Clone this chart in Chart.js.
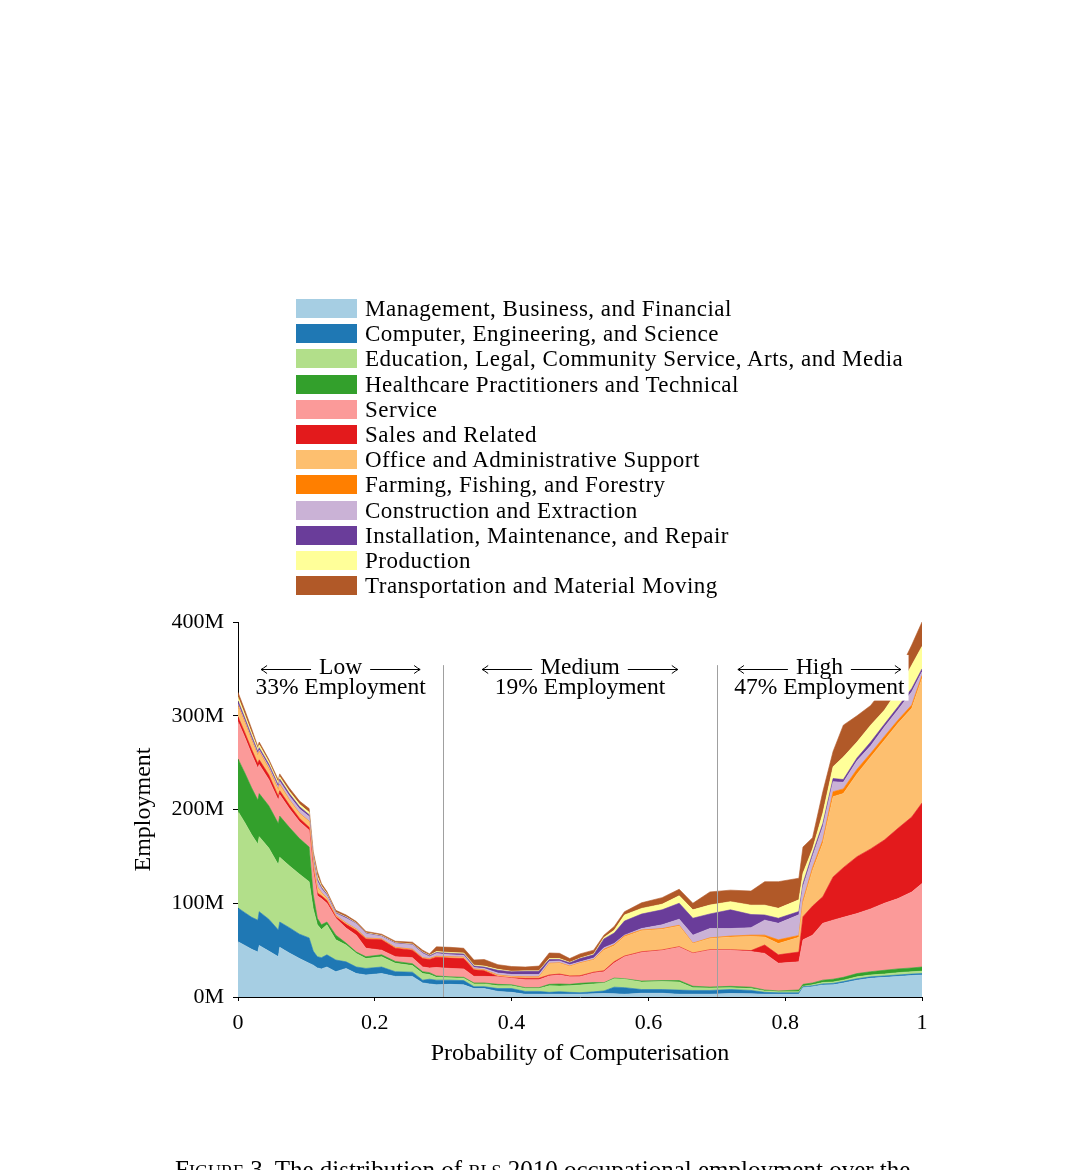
<!DOCTYPE html>
<html>
<head>
<meta charset="utf-8">
<script src="https://cdn.jsdelivr.net/npm/chart.js@4.4.0/dist/chart.umd.min.js"></script>
<style>
  html, body { margin: 0; padding: 0; background: #fff; }
  body { width: 1080px; height: 1170px; position: relative; overflow: hidden; font-family: "Liberation Serif", serif; }
  #chart { position: absolute; left: 0; top: 0; }
  #legend { position: absolute; left: 296px; top: 296px; }
  .row { display: flex; align-items: center; height: 25.2px; }
  .swatch { width: 61px; height: 19px; margin-right: 8px; flex: none; }
  .row span { font-size: 23px; letter-spacing: 0.5px; line-height: 25px; color: #000; white-space: nowrap; }
  #caption { position: absolute; left: 175px; top: 1156px; font-size: 25px; white-space: nowrap; color: #000; }
</style>
</head>
<body>
<canvas id="chart" width="1080" height="1170"></canvas>
<div id="legend"></div>
<div id="caption"><span style="font-variant: small-caps">Figure 3.</span> The distribution of <span style="font-variant: small-caps">bls</span> 2010 occupational employment over the</div>
<script>
// ---------- DATA ----------

// probability of computerisation (x positions)
const prob = [0, 0.01, 0.02, 0.029, 0.031, 0.045, 0.059, 0.061, 0.075, 0.09,
  0.104, 0.11, 0.116, 0.122, 0.13, 0.143, 0.158, 0.173, 0.187, 0.21,
  0.23, 0.255, 0.27, 0.28, 0.29, 0.31, 0.33, 0.345, 0.36, 0.38,
  0.40, 0.42, 0.44, 0.455, 0.47, 0.485, 0.50, 0.52, 0.535, 0.55,
  0.565, 0.59, 0.62, 0.645, 0.665, 0.69, 0.72, 0.75, 0.77, 0.79,
  0.82, 0.826, 0.84, 0.855, 0.87, 0.885, 0.905, 0.925, 0.945, 0.965,
  0.985, 1.0];

const categories = [
  "Management, Business, and Financial",
  "Computer, Engineering, and Science",
  "Education, Legal, Community Service, Arts, and Media",
  "Healthcare Practitioners and Technical",
  "Service",
  "Sales and Related",
  "Office and Administrative Support",
  "Farming, Fishing, and Forestry",
  "Construction and Extraction",
  "Installation, Maintenance, and Repair",
  "Production",
  "Transportation and Material Moving"
];

const colours = ['#a6cee3', '#1f78b4', '#b2df8a', '#33a02c', '#fb9a99', '#e31a1c',
  '#fdbf6f', '#ff7f00', '#cab2d6', '#6a3d9a', '#ffff99', '#b15928'];

// employment in millions, one value per prob point
const management = [59, 55, 51, 48, 55, 49, 43, 53, 47, 41, 36, 34, 31, 30, 32, 27, 30.5, 25, 23.5, 25,
  22, 22, 15, 14, 13, 13.5, 13, 9, 9, 6, 5, 3, 3, 3, 3, 3, 3, 3.5, 3.7, 3.5,
  3, 4, 4, 3, 3, 3, 3.7, 3.5, 3, 3, 3, 10, 11, 12.8, 13, 15, 18, 20, 21, 22, 23, 23.5];
const computer = [36, 35, 34, 34, 36, 34, 28.5, 27, 27, 26, 27, 15, 12, 12, 13, 12.5, 7, 7, 7, 7,
  5, 4.5, 3, 5, 5, 4.5, 4.5, 2, 2, 3, 4, 3, 3, 2, 2.7, 2, 1.6, 2, 2.8, 7,
  7, 4, 4, 4.4, 4, 4, 4.3, 3.5, 2, 1.5, 1.5, 1, 1, 1.2, 1.5, 1.5, 1.5, 1.5, 1.5, 1.5, 1.5, 1.5];
const education = [103, 96, 88, 81, 80, 76, 69.5, 69, 66, 64, 60, 45, 34, 30, 32, 21.5, 18, 14.5, 10.5, 11,
  9, 7, 7, 5, 3, 2.5, 2.5, 3, 3, 3, 3, 3, 3, 7, 6, 7, 8.2, 8.5, 8.1, 9,
  9, 8, 8.5, 8.6, 3, 2.6, 2, 2, 1.5, 1, 1, 0.5, 1, 1.5, 1.5, 1.5, 2, 2, 2, 2.5, 2.5, 2.5];
const healthcare = [56, 53, 50, 47, 46, 45, 44, 44, 41, 38, 37, 15, 7, 5, 3, 5, 2, 1.5, 2, 2,
  2, 2, 2, 2, 1.5, 1, 1, 1, 1, 1.5, 1, 1, 1, 1.5, 2.2, 1.5, 1.8, 1.5, 0.7, 0.7,
  0.5, 1, 1, 1.6, 1.5, 1, 1.4, 1.5, 1, 1, 2, 2, 2, 2.5, 3, 3, 3.5, 3.5, 4, 4, 4, 4.5];
const service = [40, 38, 36, 34, 31, 28, 25, 23, 20, 18, 18, 25, 24, 28, 20, 18, 16, 18, 9, 5,
  5, 6.5, 5, 5, 9, 9, 9, 7, 7, 8, 7, 8.5, 8.5, 9, 9.6, 8, 7.1, 10, 11.7, 16,
  23.5, 30.6, 32, 35.4, 35, 39.4, 38.6, 38, 39, 29.5, 30, 47.5, 51, 60.6, 63, 64, 64, 67, 71.5, 75, 81, 89];
const sales = [5, 5, 5, 5, 5, 5, 4, 4, 4, 3.5, 3, 3, 3, 3, 3, 1.5, 4, 5, 10, 11,
  9, 8, 9, 9, 11, 11, 11, 7, 6, 0.5, 0.5, 1.5, 1.5, 1, 1, 1, 1, 1, 1, 1.5,
  0.7, 0.7, 0.7, 0.7, 0.5, 0.5, 0.5, 1, 9, 9, 10.5, 24.7, 31, 28.4, 46, 53, 60.7, 64, 67.5, 75, 80, 86];
const office = [11, 10, 9, 8, 8, 6, 6, 6, 5, 5, 6, 5, 6, 3, 2, 1, 1, 1, 0.5, 0.5,
  0.5, 0.5, 0.5, 0.5, 0.5, 1, 1, 0.5, 0.5, 1, 1, 1, 1, 12, 11.5, 10, 13.3, 13, 22, 17,
  20.6, 22.5, 22, 22, 10, 12, 13.5, 15, 8.5, 12, 15.7, 14.3, 38, 57, 85.7, 79, 88.3, 98, 106.5, 112, 116, 133];
const farming = [1, 1, 1, 1, 1, 1, 1, 1, 0.5, 0.5, 0.5, 0.5, 0.5, 0.5, 0.5, 0.5, 0.5, 0.5, 0.5, 0.5,
  0.5, 0.5, 0.5, 0.5, 0.5, 0.5, 0.5, 0.5, 0.5, 0.5, 0.5, 0.5, 0.5, 0.5, 0.5, 0.5, 0.5, 0.5, 1, 1,
  1, 0.7, 0.8, 0.8, 0.5, 0.6, 1, 1.5, 2, 4, 2, 3, 3, 3.5, 5.3, 5, 5, 4, 4, 3.5, 3.5, 3];
const construction = [1.5, 1.5, 1.5, 1.5, 1.5, 2, 2.5, 3, 4, 4.5, 5, 4, 6, 4, 3, 2, 5, 5.5, 4.5, 2.5,
  4, 4.5, 4.5, 2, 3, 2, 2, 1.5, 1.5, 2, 2, 2.5, 2.5, 2, 2, 1.5, 1, 1.5, 1.6, 1.5,
  0.7, 1.5, 4, 6.5, 8.5, 10, 8, 8, 16, 17.6, 22, 14.7, 12, 14.2, 10.7, 7, 9, 8, 10, 11, 14, 4];
const installation = [3.5, 3, 3, 2.5, 2.5, 2.5, 2.5, 2.5, 2.5, 2.5, 2, 2, 2.5, 1.5, 1, 1, 1, 0.5, 0.5, 0.5,
  0.5, 0.5, 1, 1, 1, 1.5, 1.5, 1.5, 1.5, 3, 3, 3.5, 3.5, 2, 1.5, 2, 3.5, 3.5, 9.4, 11,
  15, 15.5, 16, 17, 18, 15.5, 20, 14, 5.5, 5.4, 3.5, 3.3, 3, 3.3, 3.3, 3, 3, 4, 3, 3.2, 3.5, 3];
const production = [4, 3.5, 3, 2.5, 3, 2.5, 2.5, 2.5, 2.5, 2.5, 2.5, 2.5, 3, 1.5, 1, 0.5, 0.5, 0.5, 0.5, 0.5,
  0.5, 0.5, 0.5, 0.5, 1, 1, 1, 1, 1, 1, 0.5, 0.5, 0.5, 1, 1, 0.5, 0.5, 1, 1.5, 3,
  6.5, 6, 6, 8, 9, 9.5, 8.7, 10, 10.5, 10.6, 12.5, 11, 5, 11, 12.7, 24, 17, 18, 15, 17.8, 25, 24];
const transport = [5, 5, 4.5, 2.5, 3, 2.5, 3, 3, 3.5, 3.5, 4, 4, 5, 2.5, 2, 2, 2, 1.5, 1.5, 1.5,
  1.5, 2, 2, 1.5, 5, 5.5, 5, 5.5, 7, 5, 5, 4, 5, 6, 5.6, 4, 4.5, 4, 2.5, 4,
  3.5, 6, 7, 7, 7, 14, 12.3, 15, 25, 28.4, 23, 28, 12, 23, 16.3, 34, 28, 21, 24, 17.5, 21.5, 26];

const seriesValues = [management, computer, education, healthcare, service, sales,
  office, farming, construction, installation, production, transport];

const xTickLabels = ['0', '0.2', '0.4', '0.6', '0.8', '1'];
const yTickLabels = ['0M', '100M', '200M', '300M', '400M'];

// risk bands
const bandEdges = [0.3, 0.7];
const bandNames = ['Low', 'Medium', 'High'];
const bandShares = ['33%', '19%', '47%'];

// ---------- LEGEND (html) ----------
const legendBox = document.getElementById('legend');
categories.forEach((name, i) => {
  const row = document.createElement('div');
  row.className = 'row';
  row.innerHTML = `<div class="swatch" style="background:${colours[i]}"></div><span>${name}</span>`;
  legendBox.appendChild(row);
});

// ---------- BAND LABELS ----------
function drawArrow(ctx, x1, x2, yy, headLeft) {
  ctx.beginPath();
  ctx.moveTo(x1, yy);
  ctx.lineTo(x2, yy);
  const tip = headLeft ? x1 : x2;
  const dir = headLeft ? 1 : -1;
  ctx.moveTo(tip + dir * 6, yy - 4);
  ctx.quadraticCurveTo(tip + dir * 2, yy - 1, tip, yy);
  ctx.quadraticCurveTo(tip + dir * 2, yy + 1, tip + dir * 6, yy + 4);
  ctx.stroke();
}

const bandPlugin = {
  id: 'bands',
  afterDatasetsDraw(chart) {
    const { ctx, scales: { x, y } } = chart;
    ctx.save();
    // separators
    ctx.strokeStyle = '#a0a0a0';
    ctx.lineWidth = 1;
    bandEdges.forEach(e => {
      const px = Math.round(x.getPixelForValue(e)) + 0.5;
      ctx.beginPath();
      ctx.moveTo(px, y.getPixelForValue(354));
      ctx.lineTo(px, y.bottom);
      ctx.stroke();
    });

    ctx.font = '23.5px "Liberation Serif"';
    ctx.textAlign = 'center';
    ctx.textBaseline = 'middle';
    const lims = [0, ...bandEdges, 1];
    const y1 = y.getPixelForValue(351);
    const y2 = y.getPixelForValue(330);
    bandNames.forEach((name, i) => {
      const cx = x.getPixelForValue((lims[i] + lims[i + 1]) / 2);
      const line2 = bandShares[i] + ' Employment';
      const w2 = ctx.measureText(line2).width;
      const wn = ctx.measureText(name).width;
      const arrow = 50, gap = 8;
      const half = Math.max(w2 / 2, wn / 2 + gap + arrow) + 4;
      ctx.fillStyle = '#fff';
      ctx.fillRect(cx - half, y1 - 13, 2 * half, y2 - y1 + 26);
      ctx.fillStyle = '#000';
      ctx.fillText(name, cx, y1);
      ctx.fillText(line2, cx, y2);
      ctx.strokeStyle = '#000';
      ctx.lineWidth = 1;
      const ay = Math.round(y1) + 1.5;
      drawArrow(ctx, cx - wn / 2 - gap - arrow, cx - wn / 2 - gap, ay, true);
      drawArrow(ctx, cx + wn / 2 + gap, cx + wn / 2 + gap + arrow, ay, false);
    });
    ctx.restore();
  }
};

// ---------- CHART ----------
const datasets = categories.map((name, i) => ({
  label: name,
  data: prob.map((p, j) => ({ x: p, y: seriesValues[i][j] })),
  backgroundColor: colours[i],
  borderColor: colours[i],
  borderWidth: 0.6,
  pointRadius: 0,
  tension: 0,
  fill: i === 0 ? 'origin' : '-1'
}));

const tickFont = { family: '"Liberation Serif", serif', size: 22 };
const titleFont = { family: '"Liberation Serif", serif', size: 24 };

new Chart(document.getElementById('chart').getContext('2d'), {
  type: 'line',
  data: { datasets: datasets },
  options: {
    responsive: false,
    animation: false,
    layout: { padding: { left: 125, top: 622, right: 158, bottom: 98 } },
    plugins: {
      legend: { display: false },
      tooltip: { enabled: false }
    },
    scales: {
      x: {
        type: 'linear',
        min: 0,
        max: 1,
        afterFit: s => { s.height = 75; },
        grid: { drawOnChartArea: false, drawTicks: true, tickLength: 4, color: '#000' },
        border: { display: true, color: '#000', width: 1 },
        ticks: {
          stepSize: 0.2,
          padding: 9,
          color: '#000',
          font: tickFont,
          maxRotation: 0,
          callback: v => xTickLabels[Math.round(v / 0.2)]
        },
        title: { display: true, text: 'Probability of Computerisation', color: '#000', font: titleFont, padding: { top: 4, bottom: 4 } }
      },
      y: {
        stacked: true,
        min: 0,
        max: 400,
        afterFit: s => { s.width = 113; },
        grid: { drawOnChartArea: false, drawTicks: true, tickLength: 5, color: '#000' },
        border: { display: true, color: '#000', width: 1 },
        ticks: {
          stepSize: 100,
          padding: 9,
          color: '#000',
          font: tickFont,
          callback: v => yTickLabels[Math.round(v / 100)]
        },
        title: { display: true, text: 'Employment', color: '#000', font: titleFont, padding: { top: 4, bottom: 4 } }
      }
    }
  },
  plugins: [bandPlugin]
});
</script>
</body>
</html>
